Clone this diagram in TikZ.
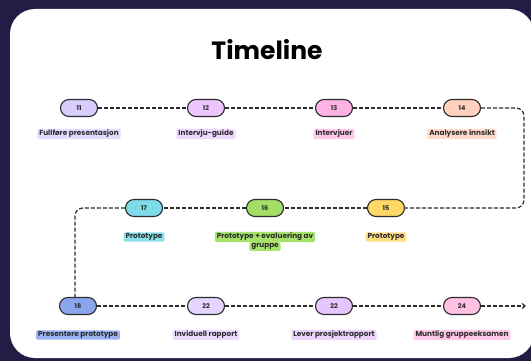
\documentclass[tikz,border=0pt]{standalone}
\usepackage{fontspec}
\setmainfont{Poppins}
\usetikzlibrary{arrows.meta}
\definecolor{bgdark}{RGB}{35,29,69}
\definecolor{ink}{RGB}{45,45,45}
\definecolor{cA}{HTML}{D8CCFF}\definecolor{lA}{HTML}{E4DAFF}
\definecolor{cB}{HTML}{EDC6FF}\definecolor{lB}{HTML}{F1D6FF}
\definecolor{cC}{HTML}{FFB3E4}\definecolor{lC}{HTML}{FFC6EC}
\definecolor{cD}{HTML}{FFD0BC}\definecolor{lD}{HTML}{FFDACB}
\definecolor{cE}{HTML}{7DDCE8}\definecolor{lE}{HTML}{8CE0EA}
\definecolor{cF}{HTML}{A3DE66}\definecolor{lF}{HTML}{A6E36A}
\definecolor{cG}{HTML}{FFD966}\definecolor{lG}{HTML}{FFDD80}
\definecolor{cH}{HTML}{8CA6EE}\definecolor{lH}{HTML}{9AB2F2}
\definecolor{cI}{HTML}{E4D4FF}\definecolor{lI}{HTML}{E9DCFF}
\definecolor{cJ}{HTML}{E6C6FF}\definecolor{lJ}{HTML}{EDD4FF}
\definecolor{cK}{HTML}{FFC0E4}\definecolor{lK}{HTML}{FFC8EA}
\tikzset{
  pill/.style={draw=ink, line width=1.1pt, rounded corners=8.5pt, minimum width=37pt, minimum height=17pt, inner sep=0pt, font=\bfseries\fontsize{6.5}{7}\selectfont, text=ink},
  tag/.style={rounded corners=1.5pt, inner xsep=2pt, inner ysep=1.2pt, font=\bfseries\fontsize{7.3}{8}\selectfont, text=ink},
  conn/.style={draw=ink, line width=1.2pt, dash pattern=on 4pt off 2pt}
}
\begin{document}
\begin{tikzpicture}[x=1pt,y=-1pt]
\useasboundingbox (0,0) rectangle (531,361);
\fill[bgdark] (0,0) rectangle (531,361);
\fill[white, rounded corners=25pt] (10,9) rectangle (534,358);
\node[font=\bfseries\fontsize{25}{30}\selectfont, text=black] (title) at (267,50) {Timeline};
% row 1
\node[pill, fill=cA] (n11) at (79,108) {11};
\node[pill, fill=cB] (n12) at (206,108) {12};
\node[pill, fill=cC] (n13) at (334,108) {13};
\node[pill, fill=cD] (n14) at (462,108) {14};
\node[tag, fill=lA] (t11) at (79,134) {Fullføre presentasjon};
\node[tag, fill=lB] (t12) at (206,134) {Intervju-guide};
\node[tag, fill=lC] (t13) at (334,134) {Intervjuer};
\node[tag, fill=lD] (t14) at (462,134) {Analysere innsikt};
% row 2
\node[pill, fill=cE] (n17) at (144,208) {17};
\node[pill, fill=cF] (n16) at (265,208) {16};
\node[pill, fill=cG] (n15) at (386,208) {15};
\node[tag, fill=lE] (t17) at (144,237) {Prototype};
\node[tag, fill=lF] (t16b) at (265,246.5) {gruppe};
\node[tag, fill=lF] (t16a) at (265,237) {Prototype + evaluering av};
\node[tag, fill=lG] (t15) at (386,237) {Prototype};
% row 3
\node[pill, fill=cH] (n18) at (78,306) {18};
\node[pill, fill=cI] (n22a) at (206,306) {22};
\node[pill, fill=cJ] (n22b) at (334,306) {22};
\node[pill, fill=cK] (n24) at (462,306) {24};
\node[tag, fill=lH] (t18) at (78,335) {Presentere prototype};
\node[tag, fill=lI] (t22a) at (206,335) {Inviduell rapport};
\node[tag, fill=lJ] (t22b) at (334,335) {Lever prosjektrapport};
\node[tag, fill=lK] (t24) at (462,335) {Muntlig gruppeeksamen};
% connectors
\coordinate (r1) at (524,108);
\coordinate (r2) at (524,208);
\coordinate (l1) at (75,208);
\coordinate (aend) at (526,306);
\draw[conn] (n11) -- (n12);
\draw[conn] (n12) -- (n13);
\draw[conn] (n13) -- (n14);
\draw[conn, rounded corners=8pt] (n14.east) -- (r1) -- (r2) -- (n15.east);
\draw[conn] (n15) -- (n16);
\draw[conn] (n16) -- (n17);
\draw[conn, rounded corners=8pt] (n17.west) -- (l1) -- (l1 |- n18.north);
\draw[conn] (n18) -- (n22a);
\draw[conn] (n22a) -- (n22b);
\draw[conn] (n22b) -- (n24);
\draw[conn, -{Straight Barb[length=3pt,width=5pt,line width=1.1pt]}] (n24.east) -- (aend);
\end{tikzpicture}
\end{document}
